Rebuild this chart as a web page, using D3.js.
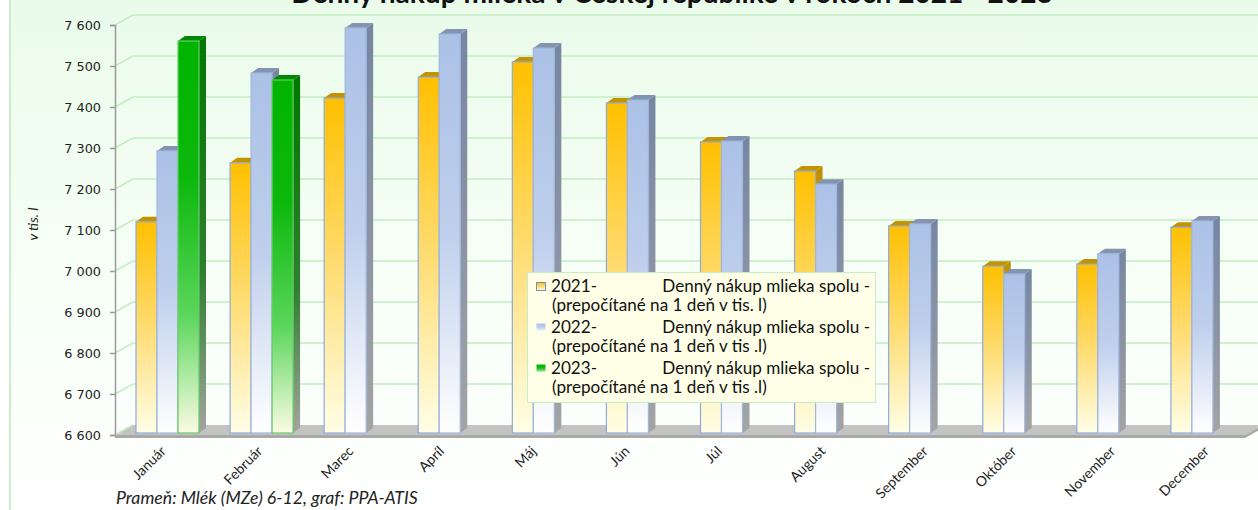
<!DOCTYPE html>
<html><head><meta charset="utf-8">
<script src="https://cdn.jsdelivr.net/npm/d3@7"></script>
<style>html,body{margin:0;padding:0;background:#fff;overflow:hidden}</style>
</head><body>
<svg id="c" width="1258" height="510"></svg>
<script>
const months = ["Január","Február","Marec","Apríl","Máj","Jún","Júl","August","September","Október","November","December"];
const years = ["2021","2022","2023"];
const v2021 = [7115,7259,7417,7468,7505,7405,7310,7239,7105,7007,7012,7102];
const v2022 = [7288,7478,7588,7573,7539,7412,7312,7207,7110,6988,7037,7117];
const v2023 = [7556,7461,null,null,null,null,null,null,null,null,null,null];
const yTicks = [6600,6700,6800,6900,7000,7100,7200,7300,7400,7500,7600];
const title = "Denný nákup mlieka v Českej republike v rokoch 2021 - 2023";
const yTitle = "v tis. l";
const source = "Prameň: Mlék (MZe) 6-12, graf: PPA-ATIS";
const legendA = ["2021-","2022-","2023-"];
const legendB = ["Denný nákup mlieka spolu -","Denný nákup mlieka spolu -","Denný nákup mlieka spolu -"];
const legendC = ["(prepočítané na 1 deň v tis. l)","(prepočítané na 1 deň v tis .l)","(prepočítané na 1 deň v tis .l)"];

const series = [v2021, v2022, v2023];
const svg = d3.select("#c");
const defs = svg.append("defs");
const FONT = "Lato, 'Open Sans', sans-serif";

function lg(id, stops, x2, y2){
  const g = defs.append("linearGradient").attr("id", id).attr("x1",0).attr("y1",0).attr("x2",x2||0).attr("y2",y2===undefined?1:y2);
  stops.forEach(s=>g.append("stop").attr("offset",s[0]).attr("stop-color",s[1]));
}
lg("bg",[[0,"#eafbea"],[0.55,"#f7fff7"],[1,"#ffffff"]]);
lg("f0",[[0,"#ffc000"],[0.45,"#ffd966"],[1,"#fffee6"]]);
lg("f1",[[0,"#abc1e6"],[0.5,"#bfcfec"],[1,"#ffffff"]]);
lg("f2",[[0,"#00b400"],[0.35,"#0cb80c"],[0.7,"#5cd65c"],[1,"#fbfbe4"]]);
lg("s0",[[0,"#c08f00"],[1,"#a8a8a0"]]);
lg("s1",[[0,"#7686a2"],[0.6,"#8f96a4"],[1,"#a4a4a4"]]);
lg("s2",[[0,"#007800"],[0.6,"#2f7f2f"],[1,"#a4a4a0"]]);
const capCol = ["#c39400","#8494b0","#008800"];
const strokeCol = ["#8eaadb","#9fb6de","#66cc66"];

// chart background
svg.append("rect").attr("x",10).attr("y",-10).attr("width",1300).attr("height",540)
  .attr("fill","url(#bg)").attr("stroke","#bfe8bf").attr("stroke-width",1.5);

const y = d3.scaleLinear().domain([6600,7600]).range([435,25]);
const x0 = d3.scaleBand().domain(months).range([116,1245]);
const x1 = d3.scaleBand().domain(years).range([20,83]);
const DX = 18, DY = -10;   // axis depth
const BX = 7, BY = -5;     // bar depth
const xFront0 = 115, xFront1 = 1245;

// back wall gridlines + left wall diagonals
const grid = svg.append("g");
yTicks.forEach(t=>{
  const yy = y(t);
  if (t > 6600) {
    grid.append("line").attr("x1",xFront0+DX).attr("x2",1300).attr("y1",yy+DY).attr("y2",yy+DY)
      .attr("stroke","#c3edc3").attr("stroke-width",1.5);
  }
  grid.append("line").attr("x1",xFront0).attr("y1",yy).attr("x2",xFront0+DX).attr("y2",yy+DY)
    .attr("stroke","#c3edc3").attr("stroke-width",1.5);
});

// floor
const fy = y(6600);
svg.append("path").attr("d",`M${xFront0},${fy}L${xFront1},${fy}L${xFront1+DX},${fy+DY}L${xFront0+DX},${fy+DY}Z`)
  .attr("fill","#c3c3c3");
svg.append("path").attr("d",`M${xFront0},${fy}L${xFront1},${fy}L${xFront1+DX},${fy+DY}L${xFront1+DX},${fy+DY+3}L${xFront1},${fy+3}L${xFront0},${fy+3}Z`)
  .attr("fill","#a9a9a9");
svg.append("line").attr("x1",xFront0).attr("y1",fy).attr("x2",xFront0+DX).attr("y2",fy+DY)
  .attr("stroke","#c3edc3").attr("stroke-width",1.5);

// y axis
const yAxisG = svg.append("g").attr("transform",`translate(${xFront0},0)`);
const fmt = d3.formatLocale({decimal:",",thousands:" ",grouping:[3],currency:["","€"]}).format(",");
yAxisG.call(d3.axisLeft(y).tickValues(yTicks).tickFormat(fmt).tickSize(5).tickPadding(9));
yAxisG.select(".domain").attr("stroke","#9a9a9a").attr("stroke-width",1.5);
yAxisG.selectAll(".tick line").attr("stroke","#9a9a9a").attr("stroke-width",1.5);
yAxisG.selectAll(".tick text").attr("font-family","'DejaVu Sans', Verdana, sans-serif").attr("font-size","12.8px").attr("fill","#222");

// bars
const bars = svg.append("g");
months.forEach((m,i)=>{
  years.forEach((yr,k)=>{
    const v = series[k][i];
    if (v === null || v === undefined) return;
    const bx = x0(m) + x1(yr), w = x1.bandwidth();
    const top = y(v) - 2, bot = y(6600) - 2;
    const g = bars.append("g");
    g.append("path").attr("d",`M${bx+w},${bot}L${bx+w},${top}L${bx+w+BX},${top+BY}L${bx+w+BX},${bot+BY}Z`)
      .attr("fill",`url(#s${k})`);
    g.append("path").attr("d",`M${bx},${top}L${bx+w},${top}L${bx+w+BX},${top+BY}L${bx+BX},${top+BY}Z`)
      .attr("fill",capCol[k]);
    g.append("rect").attr("x",bx).attr("y",top).attr("width",w).attr("height",bot-top)
      .attr("fill",`url(#f${k})`).attr("stroke",strokeCol[k]).attr("stroke-width",1.2);
  });
});

// x labels
const xl = svg.append("g");
months.forEach(m=>{
  const cx = x0(m) + x0.bandwidth()/2;
  const t = xl.append("text").text(m).attr("font-family",FONT).attr("font-size","14px").attr("fill","#222")
    .attr("text-anchor","middle");
  const L = t.node().getComputedTextLength();
  const ext = 0.707*(L+13);
  const cy = 444 + ext/2;
  t.attr("transform",`translate(${cx-14},${cy}) rotate(-45)`).attr("dy","0.35em");
});

// y title
svg.append("text").text(yTitle).attr("font-family",FONT).attr("font-style","italic").attr("font-size","14px")
  .attr("fill","#222").attr("text-anchor","middle").attr("transform","translate(38,224) rotate(-90)");

function fit(t, target){
  const fs = parseFloat(t.attr("font-size"));
  const L = t.node().getComputedTextLength();
  t.attr("font-size", (fs*target/L).toFixed(2)+"px");
}

// title
const tt = svg.append("text").text(title).attr("x",672).attr("y",3).attr("text-anchor","middle")
  .attr("font-family",FONT).attr("font-weight","bold").attr("font-size","22px").attr("fill","#111");
fit(tt, 762);

// source
const st = svg.append("text").text(source).attr("x",116).attr("y",504)
  .attr("font-family",FONT).attr("font-style","italic").attr("font-size","14px").attr("fill","#222");
fit(st, 302);

// legend
const leg = svg.append("g");
leg.append("rect").attr("x",527.5).attr("y",272.5).attr("width",348).attr("height",130)
  .attr("fill","#ffffe8").attr("stroke","#c6eec6").attr("stroke-width",1);
const probe = leg.append("text").text(legendC[0]).attr("font-family",FONT).attr("font-size","14px");
fit(probe, 215);
const lfs = probe.attr("font-size");
probe.remove();
const rowY = [292, 333, 374];
years.forEach((yr,k)=>{
  const ry = rowY[k];
  leg.append("rect").attr("x",536.5).attr("y",ry-9.5).attr("width",9).attr("height",8)
    .attr("fill",`url(#f${k})`).attr("stroke", k===0 ? "#6f8fcf" : "none").attr("stroke-width",1);
  leg.append("text").text(legendA[k]).attr("x",551).attr("y",ry).attr("font-family",FONT).attr("font-size",lfs).attr("fill","#111");
  leg.append("text").text(legendB[k]).attr("x",870).attr("y",ry).attr("text-anchor","end").attr("font-family",FONT).attr("font-size",lfs).attr("fill","#111");
  leg.append("text").text(legendC[k]).attr("x",552).attr("y",ry+19).attr("font-family",FONT).attr("font-size",lfs).attr("fill","#111");
});
</script>
</body></html>
